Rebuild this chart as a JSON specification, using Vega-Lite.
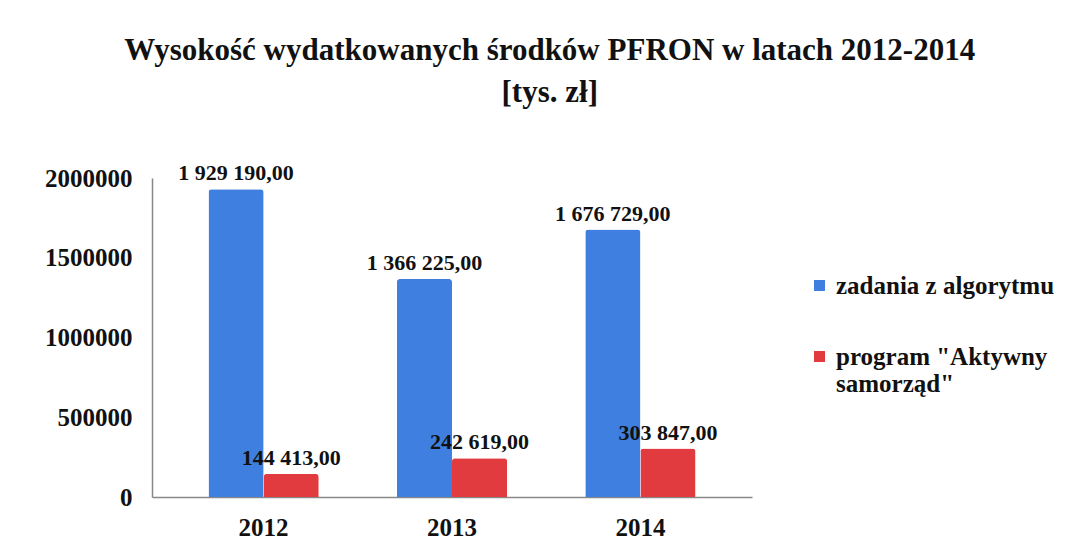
{
  "$schema": "https://vega.github.io/schema/vega-lite/v6.json",
  "width": 600,
  "height": 319,
  "padding": {"left": 44, "top": 35, "right": 10, "bottom": 10},
  "background": "white",
  "config": {
    "locale": {"number": {"decimal": ",", "thousands": " ", "grouping": [3], "currency": ["", ""]}},
    "view": {"stroke": null},
    "font": "Liberation Serif"
  },
  "title": {
    "text": ["Wysokość wydatkowanych środków PFRON w latach 2012-2014", "[tys. zł]"],
    "font": "Liberation Serif",
    "fontSize": 31,
    "fontWeight": "bold",
    "anchor": "middle",
    "frame": "bounds",
    "lineHeight": 42,
    "offset": 53,
    "color": "#111"
  },
  "data": {
    "values": [
      {"year": "2012", "series": "zadania z algorytmu", "value": 1929190},
      {"year": "2012", "series": "program \"Aktywny samorząd\"", "value": 144413},
      {"year": "2013", "series": "zadania z algorytmu", "value": 1366225},
      {"year": "2013", "series": "program \"Aktywny samorząd\"", "value": 242619},
      {"year": "2014", "series": "zadania z algorytmu", "value": 1676729},
      {"year": "2014", "series": "program \"Aktywny samorząd\"", "value": 303847}
    ]
  },
  "encoding": {
    "x": {
      "field": "year", "type": "nominal",
      "scale": {"paddingInner": 0.415, "paddingOuter": 0.3},
      "axis": {
        "title": null, "labelAngle": 0, "labelFont": "Liberation Serif", "labelFontSize": 25,
        "labelFontWeight": "bold", "labelColor": "#111", "labelPadding": 18, "ticks": false,
        "domainColor": "#888", "domainWidth": 1.5
      }
    },
    "xOffset": {"field": "series", "type": "nominal", "sort": ["zadania z algorytmu", "program \"Aktywny samorząd\""]},
    "y": {
      "field": "value", "type": "quantitative",
      "scale": {"domain": [0, 2000000]},
      "axis": {
        "title": null, "format": "d", "values": [0, 500000, 1000000, 1500000, 2000000],
        "grid": false, "ticks": false, "labelFont": "Liberation Serif", "labelFontSize": 25,
        "labelFontWeight": "bold", "labelColor": "#111", "labelPadding": 20,
        "domainColor": "#888", "domainWidth": 1.5
      }
    }
  },
  "layer": [
    {
      "mark": {"type": "bar", "cornerRadiusTopLeft": 3, "cornerRadiusTopRight": 3},
      "encoding": {
        "color": {
          "field": "series", "type": "nominal",
          "sort": ["zadania z algorytmu", "program \"Aktywny samorząd\""],
          "scale": {"range": ["#3f7fdf", "#e23b3f"]},
          "legend": {
            "title": null, "symbolType": "square", "symbolSize": 120,
            "labelFont": "Liberation Serif", "labelFontSize": 25, "labelFontWeight": "bold",
            "labelColor": "#111", "labelLimit": 300, "rowPadding": 45,
            "orient": "none", "legendX": 655, "legendY": 95,
            "labelExpr": "datum.label == 'zadania z algorytmu' ? datum.label : ['program \"Aktywny', 'samorząd\"']"
          }
        }
      }
    },
    {
      "mark": {"type": "text", "dy": -16, "fontSize": 22, "fontWeight": "bold", "font": "Liberation Serif", "color": "#111"},
      "encoding": {
        "text": {"field": "value", "type": "quantitative", "format": ",.2f"}
      }
    }
  ]
}
